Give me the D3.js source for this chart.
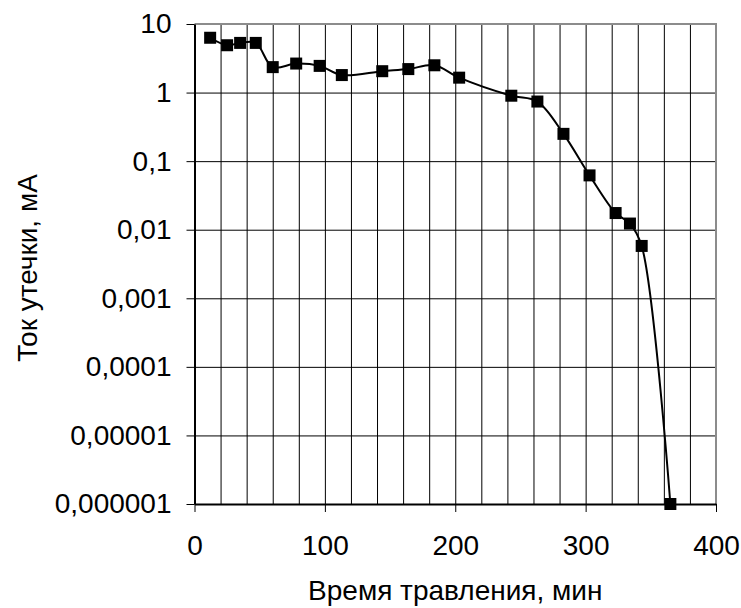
<!DOCTYPE html>
<html>
<head>
<meta charset="utf-8">
<script src="https://cdnjs.cloudflare.com/ajax/libs/d3/7.8.5/d3.min.js"></script>
<style>
  body { margin: 0; background: #fff; }
  svg { font-family: "Liberation Sans", Arial, sans-serif; }
  .axis text { font-size: 28px; fill: #000; }
  .axis path, .axis line { stroke: #000; }
  .grid line { stroke: #000; stroke-width: 1; }
  .grid path { display: none; }
  .title { font-size: 28px; fill: #000; }
</style>
</head>
<body>
<div id="chart"></div>
<script>
/* etching time, min */
var times = [12, 25, 35, 47, 60, 78, 96, 113, 144, 164, 184, 203,
             243, 263, 283, 303, 323, 334, 343, 365];
/* leakage current, mA */
var currents = [6.3, 4.9, 5.3, 5.3, 2.35, 2.65, 2.45, 1.8, 2.05, 2.2, 2.5, 1.65,
                0.9, 0.74, 0.25, 0.062, 0.0175, 0.0123, 0.0058, 0.000001];

var xTicks = [0, 100, 200, 300, 400];
var xGrid = [20, 40, 60, 80, 100, 120, 140, 160, 180, 200, 220, 240,
             260, 280, 300, 320, 340, 360, 380];
var yTicks = [10, 1, 0.1, 0.01, 0.001, 0.0001, 0.00001, 0.000001];
var yTickLabels = ["10", "1", "0,1", "0,01", "0,001", "0,0001", "0,00001", "0,000001"];

var width = 741, height = 608;
var plot = {left: 194.5, right: 716, top: 24, bottom: 504};

function translate(x, y) {
    return "translate(" + x + "," + y + ")";
}

var x = d3.scaleLinear().domain([0, 400]).range([plot.left, plot.right]);
var y = d3.scaleLog().domain([0.000001, 10]).range([plot.bottom, plot.top]);

var svg = d3.select("#chart").append("svg")
    .attr("width", width)
    .attr("height", height);

/* vertical gridlines */
svg.append("g")
    .attr("class", "grid")
    .attr("transform", translate(0, plot.bottom))
    .call(d3.axisBottom(x).tickValues(xGrid).tickSize(-(plot.bottom - plot.top)).tickFormat(""));

/* horizontal gridlines */
svg.append("g")
    .attr("class", "grid")
    .attr("transform", translate(plot.left, 0))
    .call(d3.axisLeft(y).tickValues(yTicks.slice(1, -1)).tickSize(-(plot.right - plot.left)).tickFormat(""));

/* plot border (top and right, grey) */
svg.append("path")
    .attr("d", "M" + plot.left + "," + plot.top + "H" + plot.right + "V" + plot.bottom)
    .attr("fill", "none")
    .attr("stroke", "#8c8c8c")
    .attr("stroke-width", 2);

/* x axis */
var xAxis = svg.append("g")
    .attr("class", "axis")
    .attr("transform", translate(0, plot.bottom))
    .call(d3.axisBottom(x).tickValues(xTicks).tickSize(8).tickPadding(23).tickSizeOuter(0));
xAxis.select(".domain").attr("stroke-width", 2).attr("stroke", "#333");

/* y axis */
var yAxis = svg.append("g")
    .attr("class", "axis")
    .attr("transform", translate(plot.left, 0))
    .call(d3.axisLeft(y).tickValues(yTicks).tickSize(8).tickPadding(15).tickSizeOuter(0)
        .tickFormat(function(d, i) { return yTickLabels[i]; }));
yAxis.select(".domain").attr("stroke-width", 2).attr("stroke", "#333");

/* series line */
var points = times.map(function(t, i) { return [t, currents[i]]; });

svg.append("path")
    .datum(points)
    .attr("fill", "none")
    .attr("stroke", "#000")
    .attr("stroke-width", 2)
    .attr("d", d3.line()
        .x(function(d) { return x(d[0]); })
        .y(function(d) { return y(d[1]); })
        .curve(d3.curveCatmullRom.alpha(0.5)));

/* square markers */
var ms = 12;
svg.selectAll("rect.marker")
    .data(points)
  .enter().append("rect")
    .attr("class", "marker")
    .attr("x", function(d) { return x(d[0]) - ms / 2; })
    .attr("y", function(d) { return y(d[1]) - ms / 2; })
    .attr("width", ms)
    .attr("height", ms)
    .attr("fill", "#000");

/* axis titles */
svg.append("text")
    .attr("class", "title")
    .attr("x", (plot.left + plot.right) / 2)
    .attr("y", 600)
    .attr("text-anchor", "middle")
    .text("Время травления, мин");

svg.append("text")
    .attr("class", "title")
    .attr("transform", translate(37, 268) + " rotate(-90)")
    .attr("text-anchor", "middle")
    .text("Ток утечки, мА");
</script>
</body>
</html>
